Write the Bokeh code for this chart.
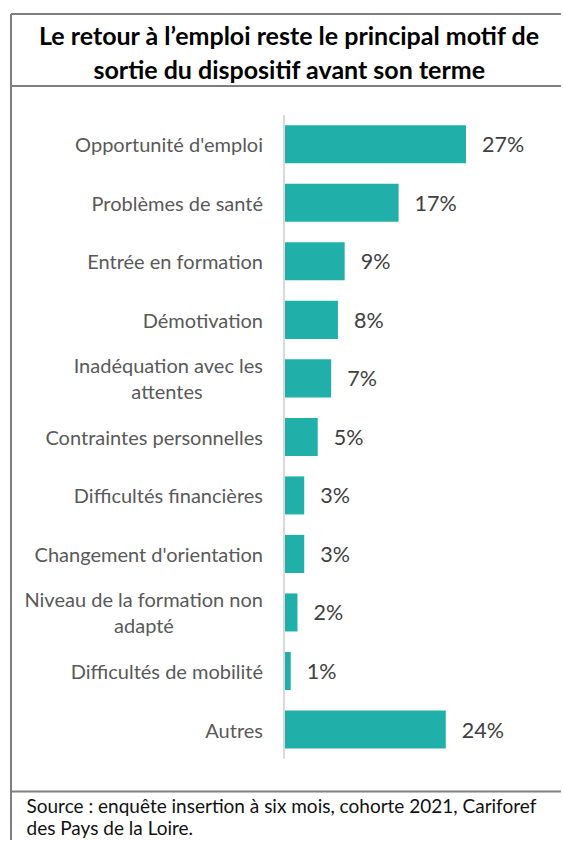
from bokeh.plotting import figure
from bokeh.models import Range1d, ColumnDataSource
from bokeh.core.properties import value
from bokeh.embed import file_html
from bokeh.resources import INLINE

# ---- data ----
categories = ["Opportunité d'emploi", "Problèmes de santé", "Entrée en formation",
              "Démotivation", "Inadéquation avec les\nattentes", "Contraintes personnelles",
              "Difficultés financières", "Changement d'orientation",
              "Niveau de la formation non\nadapté", "Difficultés de mobilité", "Autres"]
values = [27, 17, 9, 8, 7, 5, 3, 3, 2, 1, 24]
value_labels = [f"{v}%" for v in values]
title_lines = ["Le retour à l’emploi reste le principal motif de",
               "sortie du dispositif avant son terme"]
source_lines = ["Source : enquête insertion à six mois, cohorte 2021, Cariforef",
                "des Pays de la Loire."]

# ---- layout constants (pixels) ----
W, H = 561, 840
OFF = 0
AX_X = 283.5 - OFF        # figure px of value 0
K = (466 - 284) / 27.0    # px per percent
ROW0 = 143.8 - OFF        # figure px of first row centre
ROWH = 58.52              # px per row

def dx(px):   # figure px -> data x
    return (px - AX_X) / K

def dy(py):   # figure px -> data y (rows)
    return (py - ROW0) / ROWH

FONT = "Lato"
BAR = "#20b0a9"

p = figure(width=W, height=H, output_backend="svg", toolbar_location=None,
           x_range=Range1d(dx(0), dx(W)), y_range=Range1d(dy(H), dy(0)),
           min_border=0, min_border_left=0, min_border_right=0,
           min_border_top=0, min_border_bottom=0)
p.axis.visible = False
p.grid.visible = False
p.outline_line_color = None
p.background_fill_color = "white"
p.border_fill_color = "white"

rows = list(range(len(categories)))

# bars
src = ColumnDataSource(dict(y=rows, v=values, lab=value_labels))
p.hbar(y="y", left=0, right="v", height=0.65, source=src,
       fill_color=BAR, line_color=None)

# axis line
p.segment(x0=[0], y0=[-0.5], x1=[0], y1=[len(categories) - 0.5],
          line_color="#d9d9d9", line_width=2)

# value labels
p.text(x="v", y="y", text="lab", source=src, x_offset=16,
       text_font=value(FONT), text_font_size="21.5px", text_color="#404040",
       text_align="left", text_baseline="middle")

# category labels
one_y, one_t = [], []
two_y1, two_t1, two_y2, two_t2, two_off = [], [], [], [], []
second_centre = {"Inadéquation avec les": -117, "Niveau de la formation non": -140}
for i, c in enumerate(categories):
    if "\n" in c:
        a, b = c.split("\n")
        two_y1.append(i - 0.222); two_t1.append(a)
        two_y2.append(i + 0.222); two_t2.append(b)
        two_off.append(second_centre[a])
    else:
        one_y.append(i); one_t.append(c)

lab_style = dict(text_font=value(FONT), text_font_size="20px", text_color="#595959",
                 text_baseline="middle")
p.text(x=[0] * len(one_y), y=one_y, text=one_t, x_offset=-21, text_align="right", **lab_style)
p.text(x=[0] * len(two_y1), y=two_y1, text=two_t1, x_offset=-21, text_align="right", **lab_style)
for yy, tt, oo in zip(two_y2, two_t2, two_off):
    p.text(x=[0], y=[yy], text=[tt], x_offset=oo, text_align="center", **lab_style)

# frame lines
GRAY = "#7f7f7f"
x_left = dx(10.5 - OFF)
x_right = dx(W + 5)
for py in (13.5, 85.5, 791):
    p.segment(x0=[x_left], y0=[dy(py - OFF)], x1=[x_right], y1=[dy(py - OFF)],
              line_color=GRAY, line_width=2)
p.segment(x0=[x_left], y0=[dy(13.5 - OFF)], x1=[x_left], y1=[dy(H + 5)],
          line_color=GRAY, line_width=2)

# title
p.text(x=[dx(289 - OFF)] * 2, y=[dy(34 - OFF), dy(68 - OFF)], text=title_lines,
       text_font=value(FONT), text_font_size="25px", text_font_style="bold",
       text_color="#000000", text_align="center", text_baseline="middle")

# source
p.text(x=[dx(26 - OFF)] * 2, y=[dy(805 - OFF), dy(827 - OFF)], text=source_lines,
       text_font=value(FONT), text_font_size="19px", text_color="#111111",
       text_align="left", text_baseline="middle")

open("out.html", "w").write(file_html(p, INLINE))
